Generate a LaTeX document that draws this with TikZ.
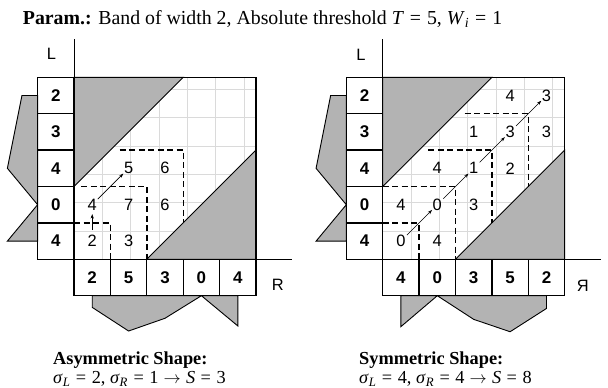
\documentclass[tikz,border=0pt]{standalone}
\usepackage{fontspec}
\setmainfont{Liberation Serif}
\setsansfont{Liberation Sans}
\usetikzlibrary{arrows.meta}
\definecolor{shadegray}{RGB}{179,179,179}
\definecolor{gridc}{RGB}{218,218,218}
\newcommand\eqs{\hspace{0.3em}=\hspace{0.3em}}
\newcommand\toarr{\hspace{0.28em}$\rightarrow$\hspace{0.28em}}
\begin{document}
\begin{tikzpicture}[x=1bp,y=-1bp,
  val/.style={font=\sffamily\fontsize{16.5}{16.5}\selectfont, inner sep=0.5bp},
  cellbox/.style={draw, line width=1.3bp, minimum width=36.4bp, minimum height=36.4bp, inner sep=0pt, font=\sffamily\bfseries\fontsize{17}{17}\selectfont},
  axlabel/.style={font=\sffamily\fontsize{16.5}{16.5}\selectfont, inner sep=0pt},
  stair/.style={line width=1.4bp, dash pattern=on 6bp off 3.5bp},
  arr/.style={-{Stealth[length=4.5bp,width=3.2bp]}, line width=0.6bp},
  shadefill/.style={fill=shadegray, draw=black, line width=0.9bp},
  gridl/.style={draw=gridc, line width=0.8bp},
  captext/.style={font=\fontsize{18.4}{22}\selectfont, inner sep=0pt, anchor=base west}
]
\useasboundingbox (0,0) rectangle (608,387);

\node[anchor=base west, inner sep=0pt, font=\fontsize{19.9}{23}\selectfont] (title) at (22.7,24)
  {\textbf{Param.:} Band of width 2, Absolute threshold \textit{T}\eqs 5, \textit{W}\textsubscript{\textit{i}}\eqs 1};

% ---------------- left diagram ----------------
\begin{scope}[shift={(74,259.3)}, x=36.4bp, y=36.4bp]
  \draw[gridl] (0,0) grid (5,5);
  \path[shadefill] (0,5) -- (3,5) -- (0,2) -- cycle;
  \path[shadefill] (5,3) -- (5,0) -- (2,0) -- cycle;
  \draw[line width=1.3bp] (0,0) rectangle (5,5);
  \draw[line width=1bp] (0,-1) -- (0,6.05);
  \draw[line width=1bp] (-1,0) -- (6,0);
  % profiles
  \path[shadefill] (-1,4.5) -- (-1.43,4.5) -- (-1.83,2.5) -- (-1,1.5) -- (-1.83,0.5) -- (-1,0.5) -- cycle;
  \path[shadefill] (0.5,-1) -- (0.5,-1.32) -- (1.5,-1.97) -- (2.5,-1.62) -- (3.5,-1) -- (4.5,-1.83) -- (4.5,-1) -- cycle;
  % L column
  \node[cellbox] (aL4) at (-0.5,4.5) {2};
  \node[cellbox] (aL3) at (-0.5,3.5) {3};
  \node[cellbox] (aL2) at (-0.5,2.5) {4};
  \node[cellbox] (aL1) at (-0.5,1.5) {0};
  \node[cellbox] (aL0) at (-0.5,0.5) {4};
  % R row
  \node[cellbox] (aR0) at (0.5,-0.5) {2};
  \node[cellbox] (aR1) at (1.5,-0.5) {5};
  \node[cellbox] (aR2) at (2.5,-0.5) {3};
  \node[cellbox] (aR3) at (3.5,-0.5) {0};
  \node[cellbox] (aR4) at (4.5,-0.5) {4};
  % stairs
  \draw[stair] (0,1) -- (1,1) -- (1,0);
  \draw[stair] (0.2,2) -- (2,2) -- (2,0);
  \draw[stair] (1.25,3) -- (3,3) -- (3,1);
  % values
  \node[val] (a00) at (0.5,0.5) {2};
  \node[val] (a10) at (1.5,0.5) {3};
  \node[val] (a01) at (0.5,1.5) {4};
  \node[val] (a11) at (1.5,1.5) {7};
  \node[val] (a21) at (2.5,1.5) {6};
  \node[val] (a12) at (1.5,2.5) {5};
  \node[val] (a22) at (2.5,2.5) {6};
  \draw[arr, shorten <=4.5bp, shorten >=3bp] (a00) -- (a01);
  \draw[arr, shorten <=0.5bp, shorten >=0bp] (a01) -- (a12);
  \node[axlabel] (aLlab) at (-0.62,5.64) {L};
  \node[axlabel] (aRlab) at (5.6,-0.7) {R};
\end{scope}

% ---------------- right diagram ----------------
\begin{scope}[shift={(382.7,259.3)}, x=36.4bp, y=36.4bp]
  \draw[gridl] (0,0) grid (5,5);
  \path[shadefill] (0,5) -- (3,5) -- (0,2) -- cycle;
  \path[shadefill] (5,3) -- (5,0) -- (2,0) -- cycle;
  \draw[line width=1.3bp] (0,0) rectangle (5,5);
  \draw[line width=1bp] (0,-1) -- (0,6.05);
  \draw[line width=1bp] (-1,0) -- (6,0);
  % profiles
  \path[shadefill] (-1,4.5) -- (-1.43,4.5) -- (-1.83,2.5) -- (-1,1.5) -- (-1.83,0.5) -- (-1,0.5) -- cycle;
  \path[shadefill] (0.5,-1) -- (0.5,-1.85) -- (1.5,-1) -- (2.5,-1.65) -- (3.5,-1.99) -- (4.5,-1.35) -- (4.5,-1) -- cycle;
  % L column
  \node[cellbox] (bL4) at (-0.5,4.5) {2};
  \node[cellbox] (bL3) at (-0.5,3.5) {3};
  \node[cellbox] (bL2) at (-0.5,2.5) {4};
  \node[cellbox] (bL1) at (-0.5,1.5) {0};
  \node[cellbox] (bL0) at (-0.5,0.5) {4};
  % R row
  \node[cellbox] (bR0) at (0.5,-0.5) {4};
  \node[cellbox] (bR1) at (1.5,-0.5) {0};
  \node[cellbox] (bR2) at (2.5,-0.5) {3};
  \node[cellbox] (bR3) at (3.5,-0.5) {5};
  \node[cellbox] (bR4) at (4.5,-0.5) {2};
  % stairs
  \draw[stair] (0,1) -- (1,1) -- (1,0);
  \draw[stair] (0,2) -- (2,2) -- (2,0);
  \draw[stair] (1.25,3) -- (3,3) -- (3,1);
  \draw[stair] (2.25,4) -- (4,4) -- (4,2);
  % values
  \node[val] (b00) at (0.5,0.5) {0};
  \node[val] (b10) at (1.5,0.5) {4};
  \node[val] (b01) at (0.5,1.5) {4};
  \node[val] (b11) at (1.5,1.5) {0};
  \node[val] (b21) at (2.5,1.5) {3};
  \node[val] (b12) at (1.5,2.5) {4};
  \node[val] (b22) at (2.5,2.5) {1};
  \node[val] (b32) at (3.5,2.5) {2};
  \node[val] (b23) at (2.5,3.5) {1};
  \node[val] (b33) at (3.5,3.5) {3};
  \node[val] (b43) at (4.5,3.5) {3};
  \node[val] (b34) at (3.5,4.5) {4};
  \node[val] (b44) at (4.5,4.5) {3};
  \draw[arr, shorten <=1bp, shorten >=0bp] (b00) -- (b11);
  \draw[arr, shorten <=1bp, shorten >=0bp] (b11) -- (b22);
  \draw[arr, shorten <=1bp, shorten >=0bp] (b22) -- (b33);
  \draw[arr, shorten <=1bp, shorten >=0bp] (b33) -- (b44);
  \node[axlabel] (bLlab) at (-0.6,5.62) {L};
  \node[axlabel] (bRlab) at (5.5,-0.72) {Я};
\end{scope}

% captions
\node[captext] (capA) at (53,364) {\textbf{Asymmetric Shape:}};
\node[captext] (capA2) at (53,383.5) {\textit{σ}\textsubscript{\textit{L}}\eqs 2, \textit{σ}\textsubscript{\textit{R}}\eqs 1\toarr\textit{S}\eqs 3};
\node[captext] (capB) at (359,364) {\textbf{Symmetric Shape:}};
\node[captext] (capB2) at (359,383.5) {\textit{σ}\textsubscript{\textit{L}}\eqs 4, \textit{σ}\textsubscript{\textit{R}}\eqs 4\toarr\textit{S}\eqs 8};
\end{tikzpicture}
\end{document}
